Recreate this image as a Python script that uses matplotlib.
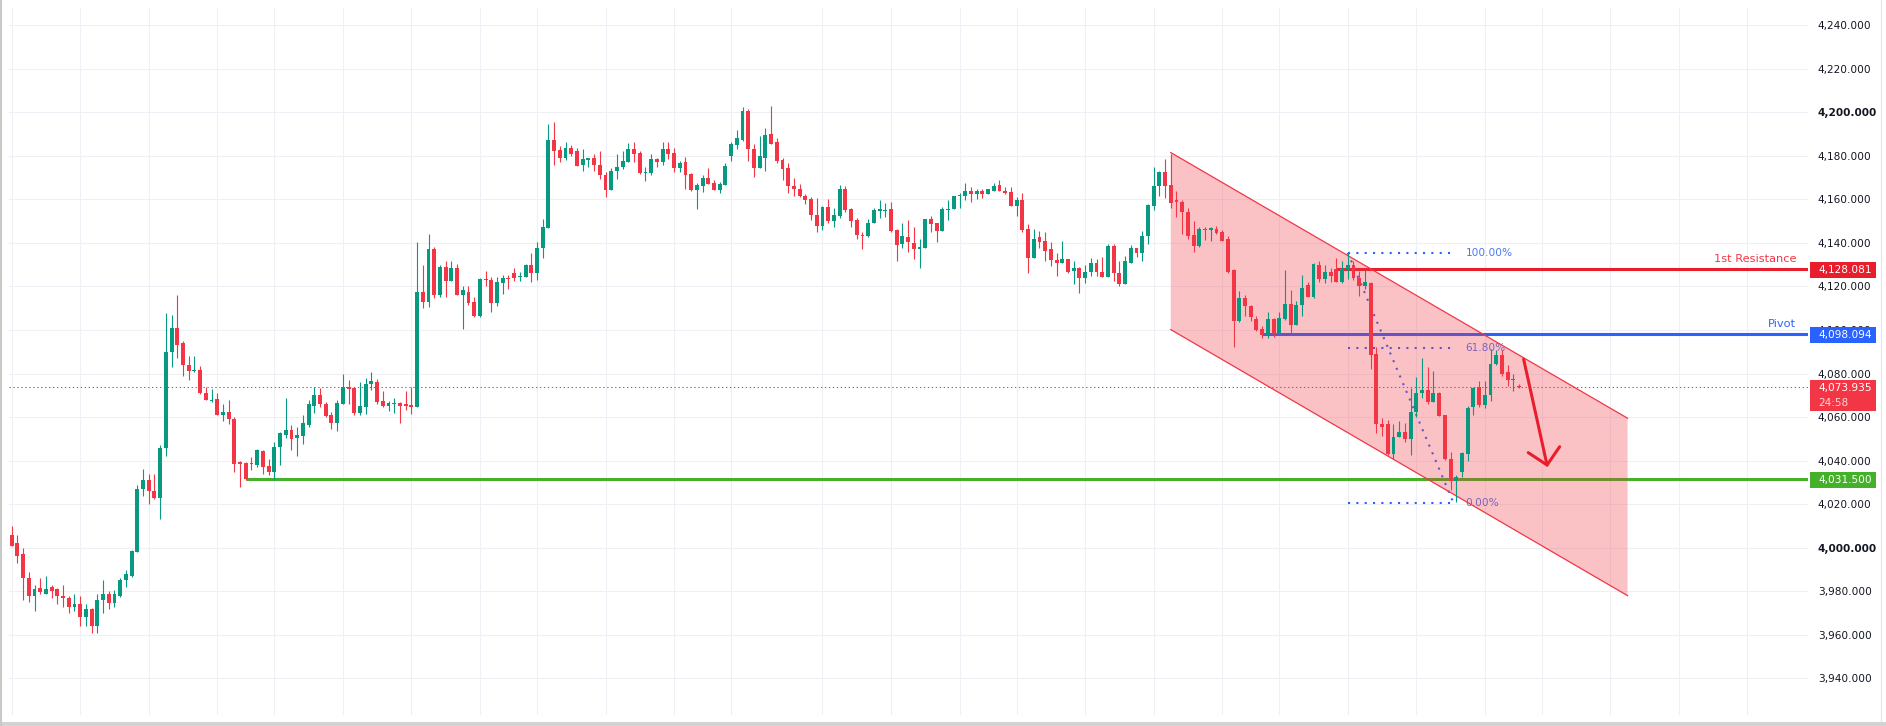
import numpy as np
import matplotlib
matplotlib.use("Agg")
import matplotlib.pyplot as plt
from matplotlib.patches import Polygon, Rectangle
from matplotlib.lines import Line2D
from matplotlib.ticker import FuncFormatter
from matplotlib.transforms import blended_transform_factory

# ---- candle data (5 min bars) ----
opens = [4006, 4002, 3997, 3986, 3978, 3981.5, 3979, 3982, 3981, 3978,
         3977, 3973, 3974, 3968, 3972, 3964, 3976, 3979, 3974.5, 3978,
         3985, 3987, 3998, 4027, 4031, 4026, 4023, 4046, 4090, 4101,
         4094, 4084, 4081, 4081.5, 4071, 4067.5, 4068.5, 4061, 4062.5, 4059,
         4039.5, 4039, 4039, 4038, 4044.5, 4037.5, 4035, 4046.5, 4052, 4054,
         4050.5, 4051.5, 4056.5, 4065, 4070, 4066, 4061, 4057.5, 4066, 4074,
         4073.5, 4062, 4064.5, 4075, 4076, 4067.5, 4065, 4066, 4066.5, 4066,
         4065.5, 4064.5, 4117.5, 4113, 4137, 4116, 4129, 4122.5, 4128.5, 4116,
         4117.5, 4113, 4106.5, 4123.5, 4123, 4112.5, 4121.5, 4124, 4126, 4124.5,
         4124.5, 4130, 4126, 4137.5, 4147, 4187.5, 4182.5, 4179, 4183.5, 4182,
         4176, 4178, 4179, 4176, 4171, 4164.5, 4173, 4175, 4177, 4183,
         4181.5, 4172, 4172, 4178.5, 4177, 4183, 4181.5, 4174.5, 4177, 4171.5,
         4164.5, 4166, 4170, 4167.5, 4164.5, 4166.5, 4180, 4185, 4187.5, 4200.5,
         4183, 4174.5, 4179, 4190, 4186.5, 4178, 4174.5, 4166, 4165, 4161.5,
         4160, 4153, 4148, 4156.5, 4150, 4152.5, 4165, 4155.5, 4150.5, 4143.5,
         4143, 4149, 4154.5, 4154.5, 4155.5, 4146, 4139.5, 4142.5, 4140, 4137,
         4137.5, 4151, 4149, 4145.5, 4155, 4155.5, 4161.5, 4161.5, 4164, 4162.5,
         4164, 4162.5, 4164, 4166.5, 4164, 4163.5, 4157, 4159.5, 4146.5, 4133,
         4142.5, 4141, 4137, 4132, 4131, 4132.5, 4127, 4128.5, 4124, 4126.5,
         4131, 4126.5, 4124.5, 4138.5, 4126, 4121, 4131, 4137.5, 4135.5, 4143,
         4157, 4166, 4172.5, 4166.5, 4159.5, 4159, 4154, 4143.5, 4138.5, 4146.5,
         4146, 4146.5, 4145, 4142, 4127.5, 4104, 4114.5, 4111, 4105, 4100.5,
         4097.5, 4105, 4098, 4105, 4112, 4102.5, 4111.5, 4120.5, 4115, 4130,
         4123.5, 4126.5, 4128, 4122, 4128, 4130, 4124, 4120, 4121.5, 4089,
         4057, 4057, 4043, 4051, 4053, 4050, 4062.5, 4071, 4072.5, 4067,
         4071, 4061, 4041, 4030.5, 4035, 4043, 4064.5, 4074, 4065.5, 4070,
         4084.5, 4088.5, 4080.5, 4077, 4074.5]
highs = [4010, 4006, 4000, 3989, 3983, 3986, 3987, 3983, 3981.5, 3983,
         3978, 3979, 3978, 3974, 3972.5, 3979, 3985, 3980, 3980.5, 3986,
         3990, 3999, 4029, 4036, 4034, 4034, 4047, 4108, 4107, 4116,
         4095, 4088, 4088, 4083.5, 4074, 4073, 4071, 4066, 4068, 4060,
         4040, 4039.5, 4041.5, 4045.5, 4045, 4041, 4048.5, 4053, 4069, 4056.5,
         4055.5, 4061, 4068, 4074, 4073.5, 4067, 4062.5, 4068, 4080, 4077,
         4074, 4076, 4078, 4080.5, 4077.5, 4072, 4067.5, 4069, 4067, 4072,
         4074, 4140.5, 4130, 4144, 4138, 4130, 4131.5, 4131.5, 4130.5, 4120,
         4120, 4115, 4124, 4127, 4124.5, 4124.5, 4125.5, 4125.5, 4128.5, 4126.5,
         4130.5, 4135.5, 4140.5, 4151, 4194.5, 4195.5, 4184.5, 4186.5, 4185, 4183.5,
         4183, 4179, 4181, 4182, 4172.5, 4174.5, 4181, 4182, 4186, 4186.5,
         4182, 4175, 4181, 4179, 4186.5, 4186.5, 4183.5, 4177.5, 4179.5, 4172,
         4167.5, 4171, 4174.5, 4169, 4168, 4176.5, 4186.5, 4192, 4202.5, 4201.5,
         4185.5, 4189, 4193, 4203, 4188, 4179, 4176.5, 4170, 4167, 4162.5,
         4161, 4160.5, 4157, 4160, 4156, 4166.5, 4166, 4156, 4151.5, 4145,
         4151, 4156, 4159.5, 4158.5, 4159, 4146.5, 4149, 4150.5, 4147.5, 4142,
         4151, 4152.5, 4149, 4156.5, 4159.5, 4161.5, 4163, 4167.5, 4165.5, 4165,
         4165, 4165, 4167.5, 4169, 4165.5, 4165.5, 4161, 4163, 4148.5, 4146.5,
         4145.5, 4145, 4140.5, 4135.5, 4141, 4132.5, 4131.5, 4129, 4130, 4133,
         4132.5, 4133.5, 4139.5, 4139.5, 4131.5, 4134, 4139, 4137.5, 4145.5, 4158,
         4175, 4173, 4178.5, 4181, 4164, 4159.5, 4156, 4150, 4147.5, 4147.5,
         4147.5, 4148, 4146, 4143, 4128, 4118, 4116, 4111.5, 4106.5, 4102,
         4108.5, 4105.5, 4108.5, 4127.5, 4118.5, 4113.5, 4125.5, 4122, 4131, 4131.5,
         4130, 4128.5, 4133, 4131.5, 4135.5, 4131.5, 4127, 4128, 4122, 4092,
         4059.5, 4058.5, 4057, 4058, 4057.5, 4073.5, 4078.5, 4087, 4083, 4081,
         4071.5, 4061, 4044, 4033.5, 4044, 4065, 4074, 4076.5, 4076.5, 4091.5,
         4091, 4091, 4084, 4080, 4075]
lows = [4001, 3993, 3976, 3975, 3971, 3979, 3979, 3977, 3974, 3973,
        3970, 3971, 3964, 3964, 3961, 3961, 3970, 3972, 3973, 3977.5,
        3982, 3986.5, 3998, 4024, 4020, 4022.5, 4013, 4042, 4083, 4087,
        4079, 4077, 4080.5, 4070.5, 4068, 4067, 4061, 4058, 4057, 4035,
        4028, 4031, 4035.5, 4037, 4034, 4033.5, 4031, 4038, 4050.5, 4045,
        4042, 4047.5, 4055.5, 4062, 4064.5, 4060, 4054.5, 4053.5, 4066, 4066,
        4061, 4061, 4061.5, 4072.5, 4066, 4064.5, 4063, 4062, 4057.5, 4063.5,
        4061.5, 4064.5, 4110, 4110.5, 4114.5, 4115, 4115, 4122.5, 4116, 4100.5,
        4111.5, 4106, 4106, 4120, 4108.5, 4111, 4116.5, 4119, 4122.5, 4122.5,
        4124.5, 4122, 4123, 4133, 4147, 4176, 4177, 4178, 4180, 4175.5,
        4173, 4175, 4173, 4169.5, 4161, 4164.5, 4169.5, 4174, 4177, 4177,
        4171.5, 4168.5, 4171, 4175, 4176, 4178.5, 4172.5, 4172.5, 4165, 4164,
        4155.5, 4163.5, 4167, 4164.5, 4163, 4166.5, 4177.5, 4183, 4187, 4177.5,
        4170.5, 4174.5, 4173, 4185.5, 4176.5, 4169, 4163, 4161.5, 4161, 4158,
        4150.5, 4145, 4146, 4149, 4147.5, 4151.5, 4154, 4147.5, 4142, 4137,
        4142.5, 4149, 4151.5, 4152, 4145, 4131.5, 4137.5, 4136, 4132.5, 4128.5,
        4137.5, 4145, 4140.5, 4145.5, 4150.5, 4155.5, 4156, 4159.5, 4159, 4160,
        4160.5, 4162.5, 4164, 4164, 4162.5, 4157, 4152.5, 4145, 4126, 4133,
        4137.5, 4131.5, 4129.5, 4125, 4131, 4126, 4121, 4117, 4121.5, 4125,
        4125, 4124.5, 4124.5, 4122.5, 4120, 4121, 4131, 4133.5, 4131.5, 4139.5,
        4155, 4161.5, 4160.5, 4156, 4152, 4144, 4142, 4136, 4138, 4141.5,
        4141, 4144, 4141, 4126, 4092, 4103.5, 4106.5, 4104, 4099.5, 4096.5,
        4096.5, 4097, 4098, 4104.5, 4098.5, 4102.5, 4106.5, 4115, 4114.5, 4122,
        4121.5, 4122, 4122, 4121.5, 4123.5, 4123, 4115.5, 4119, 4082, 4052.5,
        4051.5, 4042.5, 4041, 4051, 4048.5, 4042.5, 4060, 4069, 4066, 4067,
        4060.5, 4040.5, 4026.5, 4021, 4032.5, 4040, 4061, 4064.5, 4064, 4067.5,
        4084, 4079, 4074.5, 4072, 4073.5]
closes = [4001, 3996, 3986, 3978, 3981, 3979.5, 3981, 3980, 3978, 3977,
          3973, 3974, 3968, 3972, 3964, 3976, 3979, 3974.5, 3979, 3985,
          3988, 3998.5, 4027, 4031, 4026, 4023, 4046, 4090, 4101, 4093,
          4084, 4081, 4081.5, 4071, 4068, 4068, 4061, 4062.5, 4059, 4038.5,
          4038.5, 4031.5, 4038.5, 4045, 4037, 4035, 4046.5, 4052.5, 4054, 4050,
          4052, 4057.5, 4066, 4070, 4066, 4060.5, 4057.5, 4066.5, 4074, 4073,
          4062, 4065, 4075, 4076.5, 4067, 4065, 4066.5, 4066.5, 4065, 4065,
          4064.5, 4117.5, 4113, 4137, 4116, 4129, 4122.5, 4128.5, 4116, 4118.5,
          4112.5, 4106.5, 4123.5, 4123, 4112.5, 4122, 4124, 4123.5, 4124, 4125,
          4130, 4126, 4137.5, 4147.5, 4187.5, 4182, 4179, 4183.5, 4181, 4175.5,
          4178.5, 4179, 4176, 4171, 4164.5, 4173, 4175, 4177.5, 4183, 4181,
          4172, 4172.5, 4178.5, 4177, 4183, 4181, 4174.5, 4176.5, 4171, 4164.5,
          4166.5, 4170, 4167, 4164.5, 4167, 4175.5, 4185.5, 4188, 4200.5, 4183,
          4174.5, 4180, 4189.5, 4185.5, 4177.5, 4174, 4166, 4165, 4161.5, 4159.5,
          4153, 4148, 4156.5, 4150, 4153, 4165, 4155, 4150, 4143.5, 4143,
          4149, 4155, 4155.5, 4155, 4145.5, 4139, 4143, 4140.5, 4137, 4138,
          4151, 4148.5, 4145.5, 4155.5, 4155.5, 4161.5, 4162, 4164, 4162.5, 4164,
          4162.5, 4165, 4166, 4164, 4163, 4157, 4159.5, 4146, 4133, 4142,
          4140.5, 4136.5, 4132, 4131, 4132.5, 4126.5, 4128.5, 4124, 4126.5, 4131,
          4126.5, 4124.5, 4138.5, 4126, 4121, 4131.5, 4137.5, 4135.5, 4143, 4157.5,
          4166, 4172.5, 4166, 4158.5, 4159, 4154, 4143, 4138.5, 4146.5, 4146,
          4147, 4144.5, 4141, 4126.5, 4104, 4114.5, 4111, 4106, 4100, 4097.5,
          4105, 4098, 4105.5, 4112, 4102.5, 4111.5, 4119.5, 4115, 4130.5, 4123.5,
          4126.5, 4125, 4122, 4128, 4130, 4124, 4120, 4122, 4088.5, 4057,
          4055.5, 4043, 4051, 4053, 4050, 4062.5, 4071, 4072.5, 4067, 4071,
          4060.5, 4041, 4030.5, 4032.5, 4043.5, 4064, 4073.5, 4065.5, 4070, 4084.5,
          4088.5, 4080, 4077, 4077.5, 4073.935]

# price levels drawn on the chart
resistance = 4128.081
pivot = 4098.094
support = 4031.5
last_price = 4073.935
countdown = "24:58"

# bar index where each horizontal ray starts
resistance_start = 232
pivot_start = 219
support_start = 41

# descending channel anchors (bar index, price)
channel_x = [203, 283]
channel_top = [4181.5, 4059.5]
channel_bottom = [4100.2, 3978.0]

# fib retracement
fib_x = [234, 252.5]
fib_high = 4135.5
fib_low = 4020.7
fib_ratios = [1.0, 0.618, 0.0]

# hand drawn arrow
arrow_x = [264.8, 268.9]
arrow_y = [4086.6, 4038.0]
arrow_head_x = [265.6, 268.9, 271.1]
arrow_head_y = [4043.7, 4038.0, 4046.4]

y_ticks = np.arange(3940, 4241, 20)
bold_ticks = [4000, 4200]
time_grid = [0, 12, 24, 36, 46, 58, 70, 82, 92, 104, 116, 126, 142, 154, 166,
             176, 188, 200, 212, 222, 234, 246, 258, 268, 280, 292, 304]

GREEN = '#089981'
RED = '#f23645'
LINE_RED = '#e91e2d'
BLUE = '#2962ff'
SUP_GREEN = '#45b02a'

fig = plt.figure(figsize=(18.86, 7.26), dpi=100, facecolor='white')
# plot area in pixels: x 9..1808, y 8..715 from the top
ax = fig.add_axes([9 / 1886, 11 / 726, 1799 / 1886, 707 / 726])
ax.set_xlim(-0.47, 314.6)
ax.set_ylim(3923.2, 4247.9)
x_right = ax.get_xlim()[1]

for s in ax.spines.values():
    s.set_visible(False)
ax.set_yticks(y_ticks)
ax.set_xticks(time_grid)
ax.grid(True, color='#eef0f5', lw=0.8)
ax.set_axisbelow(True)
ax.tick_params(axis='x', length=0, labelbottom=False)
ax.yaxis.tick_right()
ax.yaxis.set_major_formatter(FuncFormatter(lambda v, p: f'{v:,.3f}'))
ax.tick_params(axis='y', length=0, pad=7, labelsize=7.6, labelcolor='#131722')
for lab, v in zip(ax.get_yticklabels(), y_ticks):
    if v in bold_ticks:
        lab.set_fontweight('bold')

# candles
o = np.array(opens)
h = np.array(highs)
l = np.array(lows)
c = np.array(closes)
x = np.arange(len(o))
cols = np.where(c >= o, GREEN, RED)
ax.vlines(x, l, h, colors=cols, lw=0.8, zorder=4)
body_lo = np.minimum(o, c)
body_h = np.maximum(np.abs(c - o), 0.5)
ax.bar(x, body_h, bottom=body_lo, width=0.68, color=cols, lw=0, zorder=4)

# horizontal rays
ax.hlines(support, support_start, x_right, colors=SUP_GREEN, lw=2.2, zorder=1.5)
ax.hlines(pivot, pivot_start, x_right, colors=BLUE, lw=2.2, zorder=1.5)
ax.hlines(resistance, resistance_start, x_right, colors=LINE_RED, lw=2.2, zorder=1.5)
ax.axhline(last_price, color=RED, lw=0.75, ls=(0, (1.3, 2.5)), zorder=1.6)

# fib retracement
for r in fib_ratios:
    lvl = fib_low + r * (fib_high - fib_low)
    ax.hlines(lvl, fib_x[0], fib_x[1], colors=BLUE, lw=1.5, ls=(0, (1, 3)), zorder=2)
    ax.text(fib_x[1] + 2.1, lvl, f'{r * 100:.2f}%', color='#4a78f0', fontsize=7.6,
            va='center', ha='left', zorder=2)
ax.plot(fib_x, [fib_high, fib_low], color=BLUE, lw=1.5, ls=(0, (1, 3)), zorder=2)

# channel
poly = Polygon([(channel_x[0], channel_top[0]), (channel_x[1], channel_top[1]),
                (channel_x[1], channel_bottom[1]), (channel_x[0], channel_bottom[0])],
               closed=True, facecolor=RED, alpha=0.3, edgecolor='none', zorder=3)
ax.add_patch(poly)
ax.plot(channel_x, channel_top, color=RED, lw=0.9, zorder=3.5)
ax.plot(channel_x, channel_bottom, color=RED, lw=0.9, zorder=3.5)

# arrow
ax.plot(arrow_x, arrow_y, color=LINE_RED, lw=2.2, solid_capstyle='round', zorder=6)
ax.plot(arrow_head_x, arrow_head_y, color=LINE_RED, lw=2.2,
        solid_capstyle='round', solid_joinstyle='round', zorder=6)

# line labels
tr = blended_transform_factory(ax.transAxes, ax.transData)
ax.text(0.9935, resistance + 3.2, '1st Resistance', transform=tr, ha='right',
        va='baseline', color=RED, fontsize=8.2, zorder=7)
ax.text(0.9935, pivot + 3.2, 'Pivot', transform=tr, ha='right',
        va='baseline', color=BLUE, fontsize=8.2, zorder=7)

# price boxes on the axis: x 1810..1876 px
box_x0 = (1810 - 9) / 1799
box_w = 66 / 1799
text_x = (1818 - 9) / 1799


def price_box(y_top, y_bot, color, lines):
    ax.add_patch(Rectangle((box_x0, y_bot), box_w, y_top - y_bot, transform=tr,
                           facecolor=color, edgecolor='none', clip_on=False, zorder=8))
    step = (y_top - y_bot) / len(lines)
    for i, (txt, alpha) in enumerate(lines):
        yc = y_top - step * (i + 0.5)
        ax.text(text_x, yc, txt, transform=tr, ha='left', va='center', color='white',
                alpha=alpha, fontsize=7.6, clip_on=False, zorder=9)


price_box(resistance + 3.0, resistance - 4.4, LINE_RED, [(f'{resistance:,.3f}', 1)])
price_box(pivot + 3.5, pivot - 4.0, BLUE, [(f'{pivot:,.3f}', 1)])
price_box(support + 3.4, support - 4.2, SUP_GREEN, [(f'{support:,.3f}', 1)])
price_box(4077.1, 4063.0, RED, [(f'{last_price:,.3f}', 1), (countdown, 0.8)])

# outer frame like the screenshot
fig.add_artist(Line2D([0.5 / 1886, 0.5 / 1886], [0, 1], color='#c9c9c9', lw=1.5,
                      transform=fig.transFigure))
fig.add_artist(Line2D([1881 / 1886, 1881 / 1886], [5 / 726, 1], color='#e6e6e6', lw=0.8,
                      transform=fig.transFigure))
fig.add_artist(Rectangle((0, 0), 1, 4 / 726, transform=fig.transFigure,
                         facecolor='#d3d3d3', edgecolor='none'))

fig.savefig('out.png', dpi=100, facecolor='white')
